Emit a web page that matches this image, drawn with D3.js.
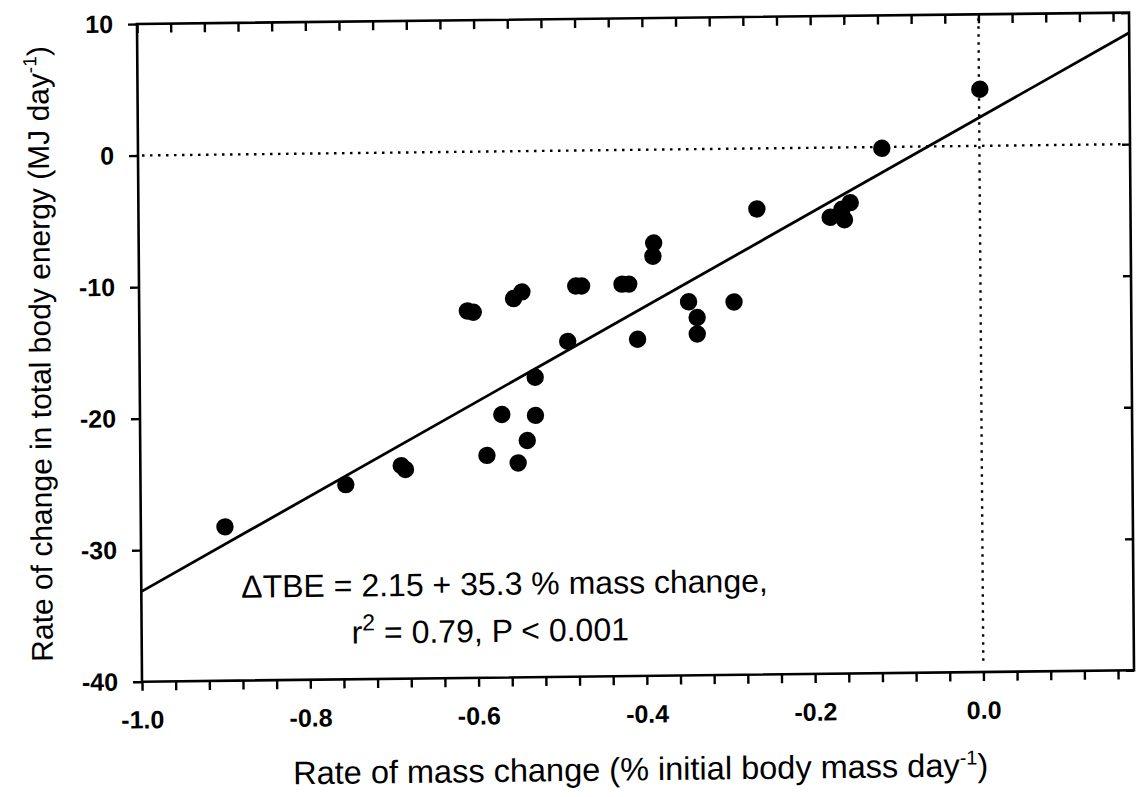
<!DOCTYPE html>
<html>
<head>
<meta charset="utf-8">
<script src="https://cdn.jsdelivr.net/npm/d3@7"></script>
<style>
  html, body { margin: 0; padding: 0; background: #fff; }
  svg { display: block; }
  text { font-family: "Liberation Sans", Arial, sans-serif; fill: #000; }
</style>
</head>
<body>
<svg id="chart" width="1143" height="797"></svg>
<script>
// ---- data ----
const massChange = [-0.900, -0.756, -0.690, -0.685, -0.588, -0.551, -0.540, -0.570, -0.530,
  -0.530, -0.491, -0.610, -0.603, -0.555, -0.545, -0.481, -0.474, -0.426, -0.418, -0.408,
  -0.388, -0.389, -0.347, -0.337, -0.337, -0.293, -0.265, -0.178, -0.164, -0.161, -0.154,
  -0.116, 0.001];
const energyChange = [-28.3, -25.2, -23.8, -24.1, -23.1, -23.7, -22.0, -20.0, -20.1,
  -17.2, -14.5, -12.1, -12.2, -11.2, -10.7, -10.3, -10.3, -10.2, -10.2, -14.4,
  -7.1, -8.1, -11.6, -12.8, -14.05, -11.65, -4.6, -5.3, -4.7, -5.5, -4.2,
  -0.1, 4.3];
const xMajorTicks = [-1.0, -0.8, -0.6, -0.4, -0.2, 0.0];
const xMinorTicks = d3.range(0, 30).map(i => -1 + i * 0.04).filter(v => v < 0.179);
const yTicks = [10, 0, -10, -20, -30, -40];
const xDomain = [-1.0, 0.179];
const yDomain = [-40, 10];
const fitIntercept = 2.15;
const fitSlope = 35.3;
const xTitle = "Rate of mass change (% initial body mass day";
const yTitle = "Rate of change in total body energy (MJ day";
const eqLine1 = "\u0394TBE = 2.15 + 35.3 % mass change,";
const eqLine2 = " = 0.79, P < 0.001";

// ---- layout ----
const L = 142, R = 1134, T = 24, B = 681.7;
const svg = d3.select("#chart");
// slight skew to follow the scanned original
const g = svg.append("g")
  .attr("transform", `matrix(1,-0.0115,0.0076,1,${-0.0076 * B},${0.0115 * L})`);

const x = d3.scaleLinear().domain(xDomain).range([L, R]);
const y = d3.scaleLinear().domain(yDomain).range([B, T]);

// frame
g.append("rect").attr("x", L).attr("y", T).attr("width", R - L).attr("height", B - T)
  .attr("fill", "none").attr("stroke", "#000").attr("stroke-width", 2.6);

// bottom axis (outward ticks)
g.append("g").attr("transform", `translate(0,${B})`)
  .call(d3.axisBottom(x).tickValues(xMinorTicks).tickSize(9).tickFormat(""))
  .call(s => s.select(".domain").remove())
  .call(s => s.selectAll("line").attr("stroke-width", 2.4));
g.append("g").attr("transform", `translate(0,${B})`)
  .call(d3.axisBottom(x).tickValues(xMajorTicks).tickSize(0).tickPadding(29).tickFormat(d3.format(".1f")))
  .call(s => s.select(".domain").remove())
  .call(s => s.selectAll("text").attr("font-size", 25).attr("font-weight", "bold")
    .attr("font-family", "Liberation Sans, Arial, sans-serif").text(d => d3.format(".1f")(d).replace("\u2212", "-")));

// top axis (inward ticks)
g.append("g").attr("transform", `translate(0,${T})`)
  .call(d3.axisTop(x).tickValues(xMinorTicks).tickSize(-9).tickFormat(""))
  .call(s => s.select(".domain").remove())
  .call(s => s.selectAll("line").attr("stroke-width", 2.4));

// left axis (outward ticks)
g.append("g").attr("transform", `translate(${L},0)`)
  .call(d3.axisLeft(y).tickValues(yTicks).tickSize(9).tickPadding(15).tickFormat(d3.format("d")))
  .call(s => s.select(".domain").remove())
  .call(s => s.selectAll("line").attr("stroke-width", 2.4))
  .call(s => s.selectAll("text").attr("font-size", 25).attr("font-weight", "bold")
    .attr("font-family", "Liberation Sans, Arial, sans-serif").text(d => String(d)));

// right axis (inward ticks)
g.append("g").attr("transform", `translate(${R},0)`)
  .call(d3.axisRight(y).tickValues(yTicks).tickSize(-8).tickFormat(""))
  .call(s => s.select(".domain").remove())
  .call(s => s.selectAll("line").attr("stroke-width", 2.4));

// dotted reference lines
g.append("line").attr("x1", x(xDomain[0]) + 4).attr("x2", x(xDomain[1]) - 6)
  .attr("y1", y(0)).attr("y2", y(0))
  .attr("stroke", "#000").attr("stroke-width", 2.4).attr("stroke-dasharray", "2.5,5.5");
g.append("line").attr("x1", x(0)).attr("x2", x(0))
  .attr("y1", y(yDomain[1]) + 4).attr("y2", y(yDomain[0]) - 6)
  .attr("stroke", "#000").attr("stroke-width", 2.4).attr("stroke-dasharray", "2.5,5.5");

// regression line
const fit = xv => fitIntercept + fitSlope * xv;
g.append("line")
  .attr("x1", x(xDomain[0])).attr("y1", y(fit(xDomain[0])))
  .attr("x2", x(xDomain[1])).attr("y2", y(fit(xDomain[1])))
  .attr("stroke", "#000").attr("stroke-width", 2.8);

// points
g.append("g").selectAll("circle")
  .data(massChange.map((m, i) => [m, energyChange[i]]))
  .join("circle")
  .attr("cx", d => x(d[0])).attr("cy", d => y(d[1])).attr("r", 8.7).attr("fill", "#000");

// equation text
g.append("text").attr("x", 242).attr("y", 599).attr("font-size", 32).text(eqLine1);
const t2 = g.append("text").attr("x", 352).attr("y", 646).attr("font-size", 32);
t2.append("tspan").text("r");
t2.append("tspan").attr("font-size", 23).attr("dy", -13).text("2");
t2.append("tspan").attr("dy", 13).text(eqLine2);

// axis titles
const xt = g.append("text").attr("x", 640).attr("y", 786)
  .attr("text-anchor", "middle").attr("font-size", 32.5);
xt.append("tspan").text(xTitle);
xt.append("tspan").attr("font-size", 20).attr("dy", -12).text("-1");
xt.append("tspan").attr("dy", 12).text(")");

const yt = g.append("text").attr("transform", `translate(53,${(T + B) / 2}) rotate(-90)`)
  .attr("text-anchor", "middle").attr("font-size", 30);
yt.append("tspan").text(yTitle);
yt.append("tspan").attr("font-size", 19).attr("dy", -12).text("-1");
yt.append("tspan").attr("dy", 12).text(")");
</script>
</body>
</html>
